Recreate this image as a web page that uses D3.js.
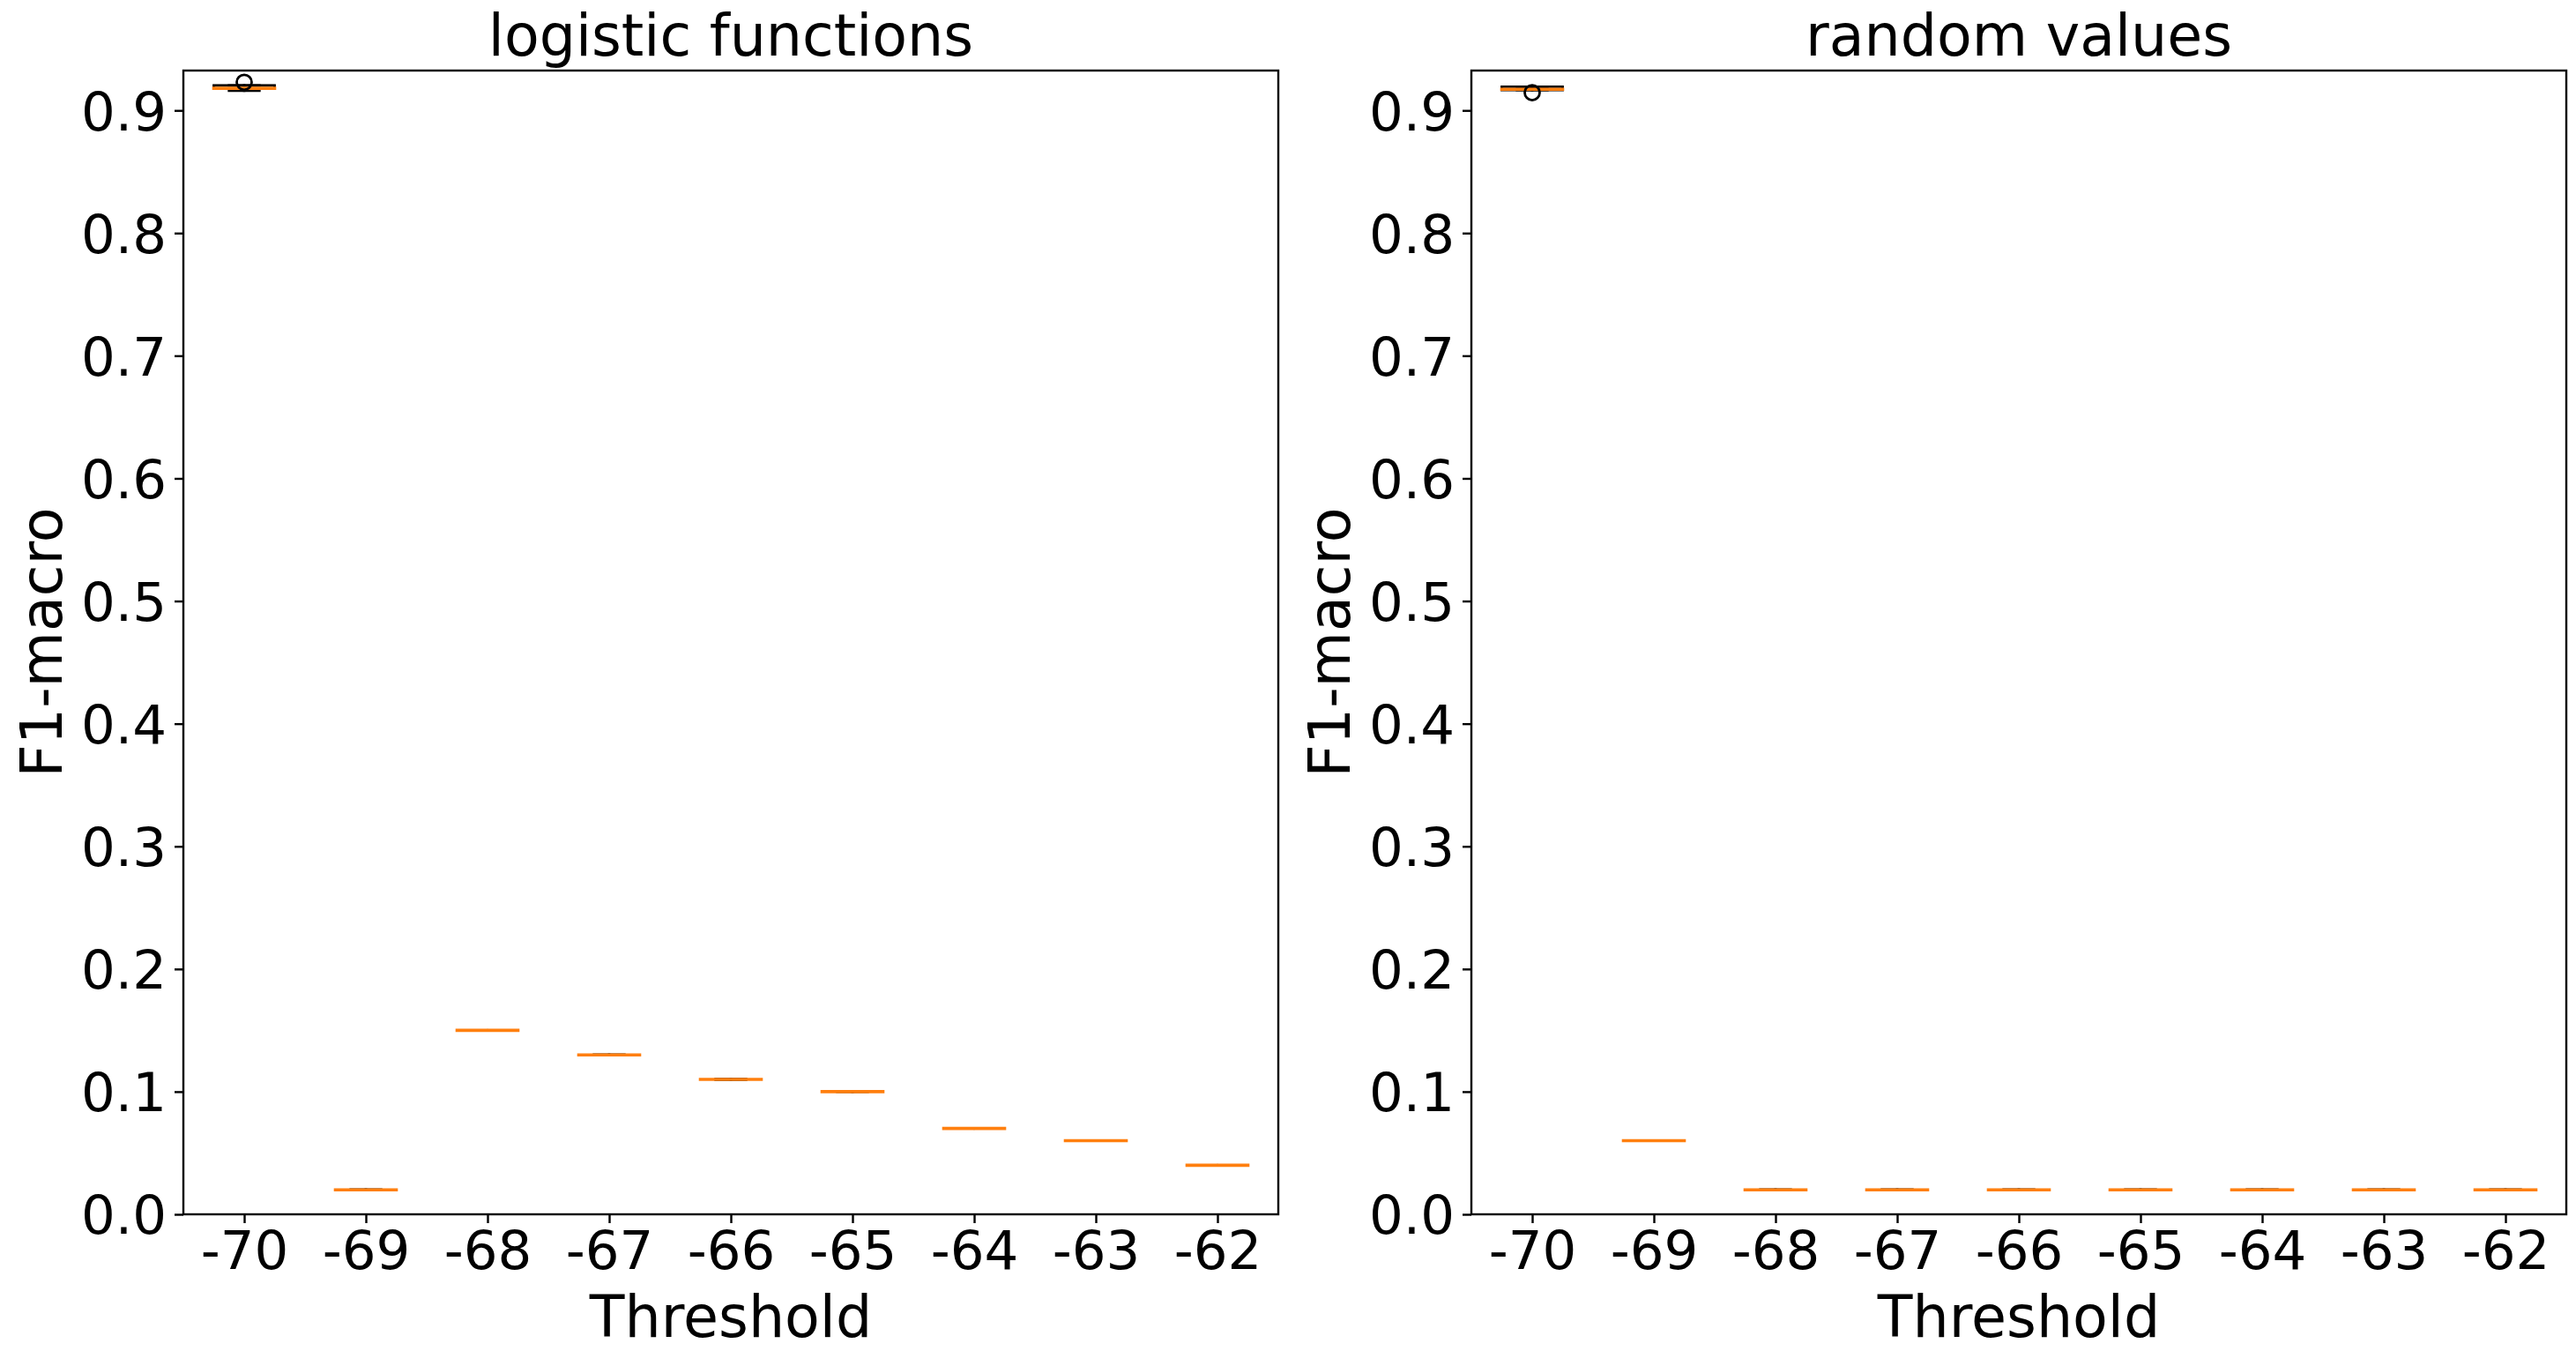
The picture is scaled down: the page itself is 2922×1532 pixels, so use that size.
<!DOCTYPE html>
<html><head><meta charset="utf-8">
<script src="https://cdn.jsdelivr.net/npm/d3@7"></script>
<style>
body{margin:0;background:#fff}
svg{display:block}
text{font-family:"DejaVu Sans",sans-serif;fill:#000}
</style>
</head><body>
<svg id="chart" width="2922" height="1532"></svg>
<script>
// ---- data ----
const thresholds = ["-70","-69","-68","-67","-66","-65","-64","-63","-62"];
const yTickValues = [0,0.1,0.2,0.3,0.4,0.5,0.6,0.7,0.8,0.9];
const panelTitles = ["logistic functions","random values"];
const yLabel = "F1-macro";
const xLabel = "Threshold";

const logisticMedian = [0.918, 0.02, 0.15, 0.13, 0.11, 0.10, 0.07, 0.06, 0.04];
const logisticQ1     = [0.9178,0.02, 0.15, 0.13, 0.11, 0.10, 0.07, 0.06, 0.04];
const logisticQ3     = [0.9204,0.02, 0.15, 0.13, 0.11, 0.10, 0.07, 0.06, 0.04];
const logisticLow    = [0.9161,0.02, 0.15, 0.13, 0.11, 0.10, 0.07, 0.06, 0.04];
const logisticHigh   = [0.9204,0.02, 0.15, 0.13, 0.11, 0.10, 0.07, 0.06, 0.04];
const logisticFliers = [[0.9229],[],[],[],[],[],[],[],[]];

const randomMedian = [0.9172,0.06, 0.02, 0.02, 0.02, 0.02, 0.02, 0.02, 0.02];
const randomQ1     = [0.9166,0.06, 0.02, 0.02, 0.02, 0.02, 0.02, 0.02, 0.02];
const randomQ3     = [0.9193,0.06, 0.02, 0.02, 0.02, 0.02, 0.02, 0.02, 0.02];
const randomLow    = [0.9166,0.06, 0.02, 0.02, 0.02, 0.02, 0.02, 0.02, 0.02];
const randomHigh   = [0.9193,0.06, 0.02, 0.02, 0.02, 0.02, 0.02, 0.02, 0.02];
const randomFliers = [[0.9145],[],[],[],[],[],[],[],[]];

const panels = [
  {title: panelTitles[0], median: logisticMedian, q1: logisticQ1, q3: logisticQ3, lo: logisticLow, hi: logisticHigh, fliers: logisticFliers, left: 208, right: 1450},
  {title: panelTitles[1], median: randomMedian, q1: randomQ1, q3: randomQ3, lo: randomLow, hi: randomHigh, fliers: randomFliers, left: 1669, right: 2911}
];

// ---- layout ----
const plotTop = 80, plotBottom = 1377;
const yMax = 0.9325;
const tickFont = 61, labelFont = 65;
const lw = 2.8, spineW = 2.4;
const orange = "#ff7f0e";

const svg = d3.select("#chart");
svg.append("rect").attr("width",2922).attr("height",1532).attr("fill","#fff");

panels.forEach(p => {
  const x = d3.scaleLinear().domain([0.5, thresholds.length + 0.5]).range([p.left, p.right]);
  const y = d3.scaleLinear().domain([0, yMax]).range([plotBottom, plotTop]);
  const g = svg.append("g");

  // y axis
  const ya = g.append("g").attr("transform", `translate(${p.left},0)`)
    .call(d3.axisLeft(y).tickValues(yTickValues).tickFormat(d3.format(".1f")).tickSize(10).tickPadding(9));
  ya.select(".domain").remove();
  ya.selectAll(".tick line").attr("stroke","#000").attr("stroke-width",spineW);
  ya.selectAll(".tick text").attr("font-size",tickFont).attr("font-family","DejaVu Sans").attr("fill","#000").attr("dy","0.36em");

  // x axis
  const xa = g.append("g").attr("transform", `translate(0,${plotBottom})`)
    .call(d3.axisBottom(x).tickValues(d3.range(1, thresholds.length + 1)).tickFormat(i => thresholds[i-1]).tickSize(10).tickPadding(9));
  xa.select(".domain").remove();
  xa.selectAll(".tick line").attr("stroke","#000").attr("stroke-width",spineW);
  xa.selectAll(".tick text").attr("font-size",tickFont).attr("font-family","DejaVu Sans").attr("fill","#000").attr("dy","0.71em");

  // boxes
  const idx = d3.range(thresholds.length);
  const bw = 0.25, cw = 0.125;
  const bg = g.append("g").attr("fill","none").attr("stroke-linecap","square");
  idx.forEach(i => {
    const c = i + 1;
    bg.append("line").attr("x1",x(c)).attr("x2",x(c)).attr("y1",y(p.q1[i])).attr("y2",y(p.lo[i])).attr("stroke","#000").attr("stroke-width",lw);
    bg.append("line").attr("x1",x(c)).attr("x2",x(c)).attr("y1",y(p.q3[i])).attr("y2",y(p.hi[i])).attr("stroke","#000").attr("stroke-width",lw);
    bg.append("line").attr("x1",x(c-cw)).attr("x2",x(c+cw)).attr("y1",y(p.lo[i])).attr("y2",y(p.lo[i])).attr("stroke","#000").attr("stroke-width",lw);
    bg.append("line").attr("x1",x(c-cw)).attr("x2",x(c+cw)).attr("y1",y(p.hi[i])).attr("y2",y(p.hi[i])).attr("stroke","#000").attr("stroke-width",lw);
    bg.append("rect").attr("x",x(c-bw)).attr("width",x(c+bw)-x(c-bw))
      .attr("y",y(p.q3[i])).attr("height",Math.max(0,y(p.q1[i])-y(p.q3[i])))
      .attr("stroke","#000").attr("stroke-width",lw).attr("stroke-linejoin","miter");
    bg.append("line").attr("x1",x(c-bw)).attr("x2",x(c+bw)).attr("y1",y(p.median[i])).attr("y2",y(p.median[i])).attr("stroke",orange).attr("stroke-width",lw+0.8);
    p.fliers[i].forEach(v => {
      bg.append("circle").attr("cx",x(c)).attr("cy",y(v)).attr("r",8.5).attr("stroke","#000").attr("stroke-width",lw);
    });
  });

  // frame
  g.append("rect").attr("x",p.left).attr("y",plotTop).attr("width",p.right-p.left).attr("height",plotBottom-plotTop)
    .attr("fill","none").attr("stroke","#000").attr("stroke-width",spineW).attr("stroke-linecap","square");

  g.append("text").attr("x",(p.left+p.right)/2).attr("y",63).attr("text-anchor","middle").attr("font-size",labelFont).text(p.title);
  g.append("text").attr("x",(p.left+p.right)/2).attr("y",1516).attr("text-anchor","middle").attr("font-size",labelFont).text(xLabel);
  const ylx = p.left - 138;
  g.append("text").attr("transform",`translate(${ylx},${(plotTop+plotBottom)/2}) rotate(-90)`).attr("text-anchor","middle").attr("font-size",labelFont).text(yLabel);
});
</script>
</body></html>
